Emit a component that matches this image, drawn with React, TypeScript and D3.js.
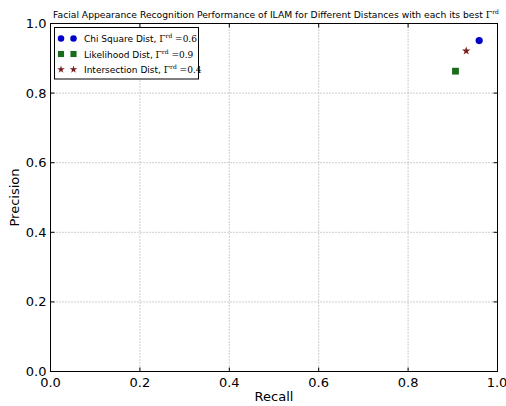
import React from "react";
import * as d3 from "d3";

const seriesNames = ["Chi Square Dist, ", "Likelihood Dist, ", "Intersection Dist, "];
const gammaValues = ["0.6", "0.9", "0.4"];
const recallValues = [0.959, 0.906, 0.93];
const precisionValues = [0.951, 0.863, 0.921];
const seriesColors = ["#0000cc", "#1a6b1a", "#7a1f1f"];
const seriesShapes = ["circle", "square", "star"];
const xTicks = [0, 0.2, 0.4, 0.6, 0.8, 1.0];
const yTicks = [0, 0.2, 0.4, 0.6, 0.8, 1.0];

const W = 506, H = 406;
const L = 50.5, R = 497.5, T = 23.5, B = 371.5;

function Marker({ shape, x, y, color, s = 1 }: { shape: string; x: number; y: number; color: string; s?: number }) {
  if (shape === "circle") return <circle cx={x} cy={y} r={3.6 * s} fill={color} />;
  if (shape === "square") return <rect x={x - 3.4 * s} y={y - 3.4 * s} width={6.8 * s} height={6.8 * s} fill={color} />;
  const p = d3.symbol().type(d3.symbolStar).size(22 * s * s)();
  return <path d={p || ""} transform={`translate(${x},${y})`} fill={color} />;
}

export default function App() {
  const x = d3.scaleLinear().domain([0, 1]).range([L, R]);
  const y = d3.scaleLinear().domain([0, 1]).range([B, T]);
  const font = "DejaVu Sans, sans-serif";
  const serif = "DejaVu Serif, serif";
  return (
    <svg width={W} height={H} style={{ position: "absolute", left: 0, top: 0, background: "#fff" }}>
      <rect width={W} height={H} fill="#fff" />
      {/* grid */}
      <g stroke="#888" strokeWidth={0.8} strokeDasharray="1,2">
        {xTicks.slice(1, -1).map((t) => (
          <line key={"gx" + t} x1={x(t)} x2={x(t)} y1={T} y2={B} />
        ))}
        {yTicks.slice(1, -1).map((t) => (
          <line key={"gy" + t} x1={L} x2={R} y1={y(t)} y2={y(t)} />
        ))}
      </g>
      {/* ticks inward */}
      <g stroke="#000" strokeWidth={1}>
        {xTicks.map((t) => (
          <g key={"tx" + t}>
            <line x1={x(t)} x2={x(t)} y1={B} y2={B - 4} />
            <line x1={x(t)} x2={x(t)} y1={T} y2={T + 4} />
          </g>
        ))}
        {yTicks.map((t) => (
          <g key={"ty" + t}>
            <line x1={L} x2={L + 4} y1={y(t)} y2={y(t)} />
            <line x1={R} x2={R - 4} y1={y(t)} y2={y(t)} />
          </g>
        ))}
      </g>
      <rect x={L} y={T} width={R - L} height={B - T} fill="none" stroke="#000" strokeWidth={1} />
      {/* tick labels */}
      <g fontFamily={font} fontSize={13} fill="#000">
        {xTicks.map((t) => (
          <text key={"lx" + t} x={Math.min(x(t), 497)} y={B + 15} textAnchor="middle">{d3.format(".1f")(t)}</text>
        ))}
        {yTicks.map((t) => (
          <text key={"ly" + t} x={L - 4} y={y(t) + 4.5} textAnchor="end">{d3.format(".1f")(t)}</text>
        ))}
      </g>
      <text x={(L + R) / 2} y={401} textAnchor="middle" fontFamily={font} fontSize={13}>Recall</text>
      <text transform={`translate(19,${(T + B) / 2}) rotate(-90)`} textAnchor="middle" fontFamily={font} fontSize={13}>Precision</text>
      {/* title */}
      <text x={276} y={18} textAnchor="middle" fontFamily={font} fontSize={9.2}>
        Facial Appearance Recognition Performance of ILAM for Different Distances with each its best
        <tspan fontFamily={serif}> Γ</tspan>
        <tspan fontFamily={serif} fontSize={6} dy={-4}>rd</tspan>
      </text>
      {/* points */}
      {recallValues.map((r, i) => (
        <Marker key={"p" + i} shape={seriesShapes[i]} x={x(r)} y={y(precisionValues[i])} color={seriesColors[i]} />
      ))}
      {/* legend */}
      <rect x={54.5} y={27.5} width={144} height={51.5} fill="#fff" stroke="#000" strokeWidth={1} />
      {seriesNames.map((n, i) => {
        const ly = 38.5 + i * 15.5;
        return (
          <g key={"lg" + i}>
            <Marker shape={seriesShapes[i]} x={61} y={ly} color={seriesColors[i]} s={0.9} />
            <Marker shape={seriesShapes[i]} x={73.5} y={ly} color={seriesColors[i]} s={0.9} />
            <text x={84} y={ly + 3.5} fontFamily={font} fontSize={9}>
              {n}
              <tspan fontFamily={serif}>Γ</tspan>
              <tspan fontFamily={serif} fontSize={6} dy={-4}>rd</tspan>
              <tspan fontFamily={serif} dy={4}> ={gammaValues[i]}</tspan>
            </text>
          </g>
        );
      })}
    </svg>
  );
}
